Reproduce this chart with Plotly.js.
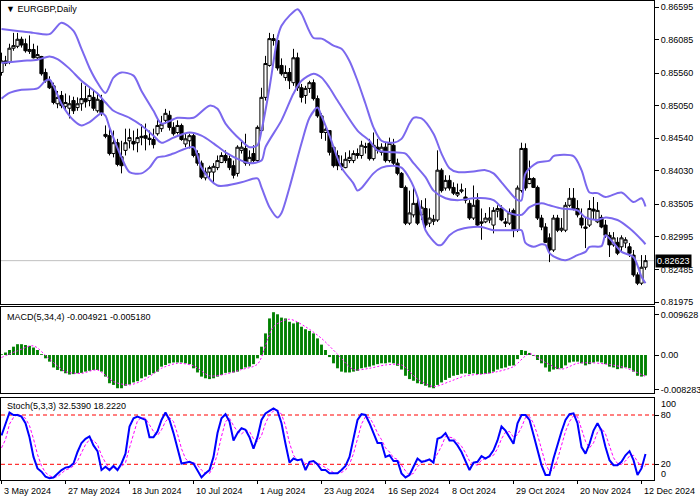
<!DOCTYPE html>
<html><head><meta charset="utf-8">
<script src="https://cdn.plot.ly/plotly-3.0.1.min.js"></script>
<style>body{margin:0;background:#fff}#chart{width:700px;height:500px}</style>
</head><body><div id="chart"></div>
<script>
// ---------- DATA ----------
const openP = [0.8557,0.8575,0.8573,0.8595,0.8598,0.8609,0.8602,0.8590,0.8593,0.8580,
0.8582,0.8557,0.8544,0.8536,0.8508,0.8521,0.8504,0.8501,0.8513,0.8502,
0.8508,0.8516,0.8513,0.8518,0.8497,0.8513,0.8460,0.8458,0.8430,0.8447,
0.8425,0.8435,0.8450,0.8449,0.8447,0.8455,0.8458,0.8454,0.8452,0.8461,
0.8469,0.8482,0.8490,0.8471,0.8463,0.8474,0.8445,0.8450,0.8458,0.8430,
0.8415,0.8392,0.8401,0.8401,0.8408,0.8416,0.8427,0.8422,0.8411,0.8399,
0.8435,0.8438,0.8415,0.8430,0.8419,0.8466,0.8518,0.8568,0.8610,0.8607,
0.8568,0.8549,0.8557,0.8541,0.8580,0.8533,0.8521,0.8532,0.8541,0.8516,
0.8489,0.8463,0.8466,0.8440,0.8427,0.8414,0.8408,0.8419,0.8419,0.8430,
0.8427,0.8441,0.8446,0.8422,0.8440,0.8432,0.8440,0.8419,0.8443,0.8415,
0.8399,0.8377,0.8321,0.8334,0.8352,0.8334,0.8344,0.8321,0.8324,0.8326,
0.8404,0.8376,0.8388,0.8377,0.8365,0.8371,0.8362,0.8352,0.8329,0.8357,
0.8323,0.8323,0.8326,0.8318,0.8340,0.8344,0.8323,0.8321,0.8341,0.8310,
0.8372,0.8438,0.8383,0.8391,0.8377,0.8329,0.8315,0.8298,0.8279,0.8329,
0.8310,0.8310,0.8349,0.8360,0.8344,0.8329,0.8315,0.8318,0.8343,0.8323,
0.8330,0.8318,0.8302,0.8287,0.8291,0.8284,0.8290,0.8284,0.8271,0.8240,
0.8227,0.8252];
const highP = [0.8588,0.8583,0.8602,0.8619,0.8619,0.8613,0.8610,0.8615,0.8602,0.8599,
0.8583,0.8563,0.8551,0.8541,0.8528,0.8528,0.8524,0.8521,0.8519,0.8518,
0.8541,0.8536,0.8532,0.8528,0.8525,0.8522,0.8474,0.8469,0.8466,0.8453,
0.8450,0.8469,0.8469,0.8466,0.8469,0.8476,0.8477,0.8466,0.8469,0.8485,
0.8489,0.8500,0.8497,0.8479,0.8482,0.8477,0.8461,0.8461,0.8461,0.8435,
0.8419,0.8408,0.8411,0.8415,0.8427,0.8432,0.8435,0.8427,0.8419,0.8443,
0.8450,0.8461,0.8435,0.8443,0.8474,0.8533,0.8583,0.8619,0.8617,0.8615,
0.8579,0.8568,0.8564,0.8594,0.8588,0.8539,0.8536,0.8544,0.8546,0.8521,
0.8493,0.8471,0.8466,0.8443,0.8435,0.8427,0.8432,0.8435,0.8435,0.8438,
0.8450,0.8447,0.8453,0.8463,0.8453,0.8446,0.8447,0.8455,0.8453,0.8422,
0.8401,0.8380,0.8372,0.8376,0.8360,0.8357,0.8360,0.8344,0.8334,0.8435,
0.8407,0.8396,0.8396,0.8385,0.8383,0.8383,0.8376,0.8357,0.8380,0.8368,
0.8344,0.8337,0.8346,0.8346,0.8349,0.8349,0.8329,0.8344,0.8344,0.8380,
0.8447,0.8446,0.8419,0.8393,0.8380,0.8334,0.8321,0.8305,0.8334,0.8334,
0.8329,0.8354,0.8376,0.8376,0.8357,0.8344,0.8330,0.8357,0.8362,0.8354,
0.8334,0.8326,0.8307,0.8307,0.8299,0.8302,0.8299,0.8290,0.8279,0.8244,
0.8271,0.8271];
const lowP = [0.8552,0.8567,0.8570,0.8591,0.8595,0.8596,0.8588,0.8586,0.8579,0.8577,
0.8552,0.8541,0.8531,0.8507,0.8501,0.8501,0.8497,0.8485,0.8492,0.8497,
0.8497,0.8502,0.8504,0.8497,0.8494,0.8489,0.8454,0.8427,0.8424,0.8410,
0.8399,0.8427,0.8438,0.8435,0.8432,0.8443,0.8435,0.8443,0.8438,0.8458,
0.8464,0.8477,0.8466,0.8458,0.8460,0.8450,0.8440,0.8438,0.8424,0.8411,
0.8390,0.8388,0.8391,0.8383,0.8404,0.8415,0.8415,0.8404,0.8391,0.8394,
0.8430,0.8411,0.8411,0.8416,0.8416,0.8463,0.8513,0.8566,0.8599,0.8560,
0.8552,0.8544,0.8531,0.8536,0.8528,0.8510,0.8508,0.8525,0.8513,0.8486,
0.8453,0.8450,0.8427,0.8408,0.8404,0.8404,0.8407,0.8415,0.8415,0.8422,
0.8422,0.8430,0.8419,0.8419,0.8430,0.8427,0.8416,0.8416,0.8411,0.8396,
0.8376,0.8318,0.8318,0.8330,0.8318,0.8326,0.8313,0.8315,0.8318,0.8323,
0.8369,0.8372,0.8372,0.8365,0.8362,0.8368,0.8352,0.8326,0.8326,0.8315,
0.8295,0.8321,0.8321,0.8305,0.8330,0.8324,0.8315,0.8318,0.8299,0.8307,
0.8369,0.8372,0.8382,0.8376,0.8326,0.8310,0.8290,0.8260,0.8276,0.8307,
0.8307,0.8307,0.8346,0.8341,0.8330,0.8313,0.8282,0.8315,0.8326,0.8321,
0.8313,0.8298,0.8268,0.8284,0.8271,0.8276,0.8282,0.8268,0.8237,0.8224,
0.8224,0.8248];
const closeP = [0.8575,0.8571,0.8595,0.8599,0.8609,0.8600,0.8591,0.8593,0.8580,0.8585,
0.8555,0.8544,0.8533,0.8510,0.8518,0.8505,0.8510,0.8508,0.8497,0.8508,
0.8516,0.8511,0.8521,0.8501,0.8515,0.8494,0.8457,0.8430,0.8447,0.8413,
0.8411,0.8447,0.8455,0.8445,0.8455,0.8457,0.8454,0.8452,0.8444,0.8474,
0.8476,0.8493,0.8471,0.8461,0.8474,0.8452,0.8453,0.8458,0.8427,0.8415,
0.8393,0.8401,0.8408,0.8410,0.8419,0.8427,0.8419,0.8408,0.8396,0.8440,
0.8440,0.8415,0.8424,0.8419,0.8471,0.8518,0.8571,0.8610,0.8607,0.8564,
0.8555,0.8557,0.8544,0.8580,0.8533,0.8518,0.8532,0.8541,0.8516,0.8489,
0.8463,0.8468,0.8432,0.8411,0.8411,0.8410,0.8421,0.8424,0.8430,0.8427,
0.8443,0.8440,0.8422,0.8443,0.8435,0.8440,0.8419,0.8446,0.8415,0.8399,
0.8377,0.8321,0.8337,0.8352,0.8321,0.8346,0.8318,0.8329,0.8327,0.8404,
0.8372,0.8388,0.8376,0.8368,0.8369,0.8373,0.8357,0.8329,0.8349,0.8318,
0.8321,0.8329,0.8329,0.8341,0.8344,0.8326,0.8321,0.8337,0.8310,0.8376,
0.8438,0.8376,0.8391,0.8377,0.8329,0.8315,0.8291,0.8279,0.8329,0.8310,
0.8313,0.8349,0.8360,0.8344,0.8334,0.8318,0.8313,0.8344,0.8340,0.8341,
0.8315,0.8302,0.8287,0.8298,0.8274,0.8298,0.8295,0.8274,0.8240,0.8227,
0.8252,0.82623];

// Bollinger bands, read at key bars
const bbUpperIdx = [0,4,8,12,15,18,20,22,24,26,28,30,33,35,38,40,44,48,52,54,56,60,62,64,65,67,69,70,72,74,75,78,80,81,83,85,87,89,91,93,95,98,100,102,103,105,108,110,112,114,118,121,123,125,129,130,131,134,137,138,143,145,147,149,151,155,158,160,161];
const bbUpper = [0.8625,0.8622,0.8619,0.8617,0.8635,0.8622,0.8594,0.8564,0.8541,0.8525,0.8549,0.8557,0.8552,0.8528,0.8497,0.8477,0.8486,0.8486,0.8505,0.8500,0.8477,0.8450,0.8440,0.8443,0.8466,0.8533,0.8611,0.8630,0.8646,0.8656,0.8649,0.8611,0.8610,0.8607,0.8599,0.8594,0.8575,0.8544,0.8508,0.8471,0.8450,0.8447,0.8453,0.8477,0.8486,0.8485,0.8461,0.8430,0.8407,0.8401,0.8402,0.8404,0.8399,0.8385,0.8357,0.8357,0.8399,0.8416,0.8419,0.8426,0.8426,0.8404,0.8369,0.8368,0.8362,0.8369,0.8354,0.8360,0.8347];
const bbMiddleIdx = [0,5,9,12,14,17,20,24,26,28,32,35,38,40,43,47,50,53,56,60,62,65,66,70,73,75,78,80,82,84,89,92,94,98,101,103,106,108,111,114,118,121,123,125,127,130,132,135,137,140,144,146,149,151,154,157,160,161];
const bbMiddle = [0.8572,0.8575,0.8577,0.8582,0.8578,0.8563,0.8544,0.8524,0.8510,0.8497,0.8486,0.8474,0.8458,0.8447,0.8455,0.8463,0.8458,0.8446,0.8432,0.8419,0.8415,0.8419,0.8440,0.8482,0.8524,0.8544,0.8555,0.8549,0.8533,0.8513,0.8466,0.8450,0.8435,0.8432,0.8430,0.8415,0.8393,0.8372,0.8360,0.8357,0.8360,0.8360,0.8357,0.8346,0.8337,0.8334,0.8346,0.8352,0.8349,0.8344,0.8341,0.8330,0.8326,0.8330,0.8326,0.8313,0.8295,0.8288];
const bbLowerIdx = [0,2,5,9,11,12,13,15,18,20,22,25,26,27,30,32,35,37,39,41,43,48,50,54,60,64,65,67,69,70,72,75,77,79,80,82,85,88,89,90,93,95,98,100,102,104,106,109,110,112,114,118,120,123,125,128,130,131,133,135,136,137,139,141,144,146,147,150,151,153,155,158,160,161];
const bbLower = [0.8516,0.8525,0.8530,0.8532,0.8544,0.8546,0.8536,0.8508,0.8482,0.8474,0.8479,0.8493,0.8489,0.8471,0.8424,0.8401,0.8399,0.8408,0.8424,0.8426,0.8430,0.8440,0.8408,0.8380,0.8385,0.8391,0.8377,0.8346,0.8330,0.8337,0.8377,0.8446,0.8486,0.8502,0.8489,0.8458,0.8408,0.8383,0.8372,0.8376,0.8399,0.8408,0.8411,0.8408,0.8391,0.8362,0.8310,0.8287,0.8287,0.8302,0.8310,0.8315,0.8315,0.8310,0.8310,0.8310,0.8310,0.8290,0.8284,0.8288,0.8287,0.8274,0.8266,0.8263,0.8271,0.8276,0.8284,0.8285,0.8302,0.8290,0.8276,0.8268,0.8237,0.8227];

// MACD(5,34,4)
const macdHist = [0.0002,0.0006,0.0012,0.0020,0.0026,0.0026,0.0024,0.0022,0.0018,0.0012,
0.0002,-0.0008,-0.0016,-0.0030,-0.0036,-0.0039,-0.0044,-0.0047,-0.0046,-0.0044,
-0.0043,-0.0040,-0.0038,-0.0036,-0.0036,-0.0040,-0.0052,-0.0068,-0.0072,-0.0080,
-0.0080,-0.0074,-0.0071,-0.0066,-0.0063,-0.0056,-0.0052,-0.0048,-0.0044,-0.0040,
-0.0028,-0.0024,-0.0020,-0.0018,-0.0018,-0.0018,-0.0020,-0.0022,-0.0032,-0.0042,
-0.0052,-0.0056,-0.0058,-0.0056,-0.0052,-0.0048,-0.0043,-0.0042,-0.0042,-0.0040,
-0.0034,-0.0030,-0.0028,-0.0022,-0.0008,0.0020,0.0052,0.0088,0.0103,0.0098,
0.0090,0.0088,0.0080,0.0076,0.0079,0.0068,0.0062,0.0058,0.0052,0.0040,
0.0025,0.0012,-0.0005,-0.0020,-0.0032,-0.0040,-0.0042,-0.0042,-0.0040,-0.0038,
-0.0032,-0.0030,-0.0028,-0.0025,-0.0022,-0.0020,-0.0020,-0.0018,-0.0020,-0.0026,
-0.0035,-0.0050,-0.0058,-0.0062,-0.0068,-0.0070,-0.0074,-0.0078,-0.0080,-0.0072,
-0.0066,-0.0060,-0.0055,-0.0050,-0.0048,-0.0045,-0.0044,-0.0046,-0.0044,-0.0046,
-0.0046,-0.0045,-0.0044,-0.0040,-0.0035,-0.0032,-0.0030,-0.0026,-0.0025,-0.0010,
0.0012,0.0010,0.0005,-0.0002,-0.0012,-0.0020,-0.0030,-0.0040,-0.0035,-0.0034,
-0.0032,-0.0025,-0.0018,-0.0016,-0.0016,-0.0020,-0.0025,-0.0022,-0.0018,-0.0016,
-0.0018,-0.0022,-0.0028,-0.0030,-0.0034,-0.0032,-0.0030,-0.0032,-0.0040,-0.0050,
-0.0052,-0.004921];
const macdSignalIdx = [0,4,8,12,16,20,24,28,32,36,40,44,48,52,56,60,64,68,72,76,80,84,88,92,96,100,104,108,112,116,120,124,128,132,136,140,144,148,152,156,160,161];
const macdSignal = [-0.0006,0.0010,0.0022,-0.0010,-0.0040,-0.0044,-0.0036,-0.0064,-0.0072,-0.0058,
-0.0032,-0.0020,-0.0026,-0.0050,-0.0046,-0.0035,-0.0022,0.0068,0.0086,0.0068,
0.0040,0.0002,-0.0035,-0.0032,-0.0024,-0.0024,-0.0058,-0.0076,-0.0064,-0.0050,
-0.0046,-0.0040,-0.0028,0.0003,-0.0018,-0.0034,-0.0020,-0.0019,-0.0023,-0.0031,
-0.0047,-0.005180];

// Stochastic(5,3,3)
const stochMain = [55,68,83,80,80,78,70,53,29,15,
11,5,3,4,9,13,16,17,21,35,
46,51,54,43,36,13,17,13,18,13,
21,33,66,76,78,76,74,53,53,60,
74,83,74,58,39,21,22,23,21,13,
4,9,13,29,58,76,81,72,49,58,
64,62,53,39,53,74,82,85,88,85,
70,45,22,27,25,26,13,23,24,20,
13,13,9,9,9,13,18,29,53,74,
81,80,70,58,46,46,29,31,24,24,
9,4,7,17,27,23,24,26,22,51,
53,58,49,49,43,35,25,13,22,23,
30,27,30,37,49,66,61,53,45,70,
80,80,74,56,37,19,7,7,27,45,
60,74,81,82,70,41,33,45,61,70,
61,41,25,19,19,23,31,36,25,7,
15,32.539];
const stochSignal = [40,50,69,77,81,79,76,67,51,32,
18,10,6,4,5,9,13,15,18,24,
34,44,50,49,44,31,22,14,16,15,
17,22,40,58,73,77,76,68,60,55,
62,72,77,72,57,39,27,22,22,19,
13,9,9,17,33,54,72,76,67,60,
57,61,60,51,48,55,70,80,85,86,
81,67,46,31,25,26,21,21,20,22,
19,15,12,10,9,10,13,20,33,52,
69,78,77,69,58,50,40,35,28,26,
19,12,7,9,17,22,25,24,24,33,
42,54,53,52,47,42,34,24,20,19,
25,27,29,31,39,51,59,60,53,56,
65,77,78,70,56,37,21,11,14,26,
44,60,72,79,78,64,48,40,46,59,
64,57,42,28,21,20,24,30,31,23,
16,18.222];
const stochLevels = [80, 20];

// Axis labels
const priceTicks = [0.86595,0.86085,0.85560,0.85050,0.84540,0.84030,0.83505,0.82995,0.82485,0.81975];
const macdTicks = [0.009628, 0, -0.008283];
const macdTickText = ['0.009628','0.00','-0.008283'];
const dateIdx = [0,16,32,48,64,80,96,112,128,144,160];
const dateLabels = ['3 May 2024','27 May 2024','18 Jun 2024','10 Jul 2024','1 Aug 2024','23 Aug 2024','16 Sep 2024','8 Oct 2024','29 Oct 2024','20 Nov 2024','12 Dec 2024'];
const chartTitle = 'EURGBP,Daily';
const macdLabel = 'MACD(5,34,4) -0.004921 -0.005180';
const stochLabel = 'Stoch(5,3,3) 32.5390 18.2220';

// ---------- CHART ----------
const n = openP.length;
const idx = Array.from({length: n}, (_, i) => i);
const lastClose = closeP[n - 1];
const FONT = {family: '"Liberation Sans", Arial, sans-serif', size: 9, color: '#000'};
const bbLine = {color: '#7b68ee', width: 2, shape: 'spline', smoothing: 0.8};

const traces = [
  {type: 'candlestick', x: idx, open: openP, high: highP, low: lowP, close: closeP,
   xaxis: 'x', yaxis: 'y', whiskerwidth: 0, hoverinfo: 'skip',
   increasing: {line: {color: '#000', width: 1}, fillcolor: '#ffffff'},
   decreasing: {line: {color: '#000', width: 1}, fillcolor: '#000000'}},
  {type: 'scatter', mode: 'lines', x: bbUpperIdx, y: bbUpper, line: bbLine, xaxis: 'x', yaxis: 'y', hoverinfo: 'skip'},
  {type: 'scatter', mode: 'lines', x: bbMiddleIdx, y: bbMiddle, line: bbLine, xaxis: 'x', yaxis: 'y', hoverinfo: 'skip'},
  {type: 'scatter', mode: 'lines', x: bbLowerIdx, y: bbLower, line: bbLine, xaxis: 'x', yaxis: 'y', hoverinfo: 'skip'},
  {type: 'bar', x: idx, y: macdHist, width: 0.72, marker: {color: '#008000', line: {width: 0}},
   xaxis: 'x2', yaxis: 'y2', hoverinfo: 'skip'},
  {type: 'scatter', mode: 'lines', x: macdSignalIdx, y: macdSignal,
   line: {color: '#ff00ff', width: 1, dash: '2px,2px', shape: 'spline', smoothing: 0.8},
   xaxis: 'x2', yaxis: 'y2', hoverinfo: 'skip'},
  {type: 'scatter', mode: 'lines', x: idx, y: stochSignal,
   line: {color: '#ff00ff', width: 1, dash: '3px,2px'}, xaxis: 'x3', yaxis: 'y3', hoverinfo: 'skip'},
  {type: 'scatter', mode: 'lines', x: idx, y: stochMain,
   line: {color: '#0000ff', width: 2}, xaxis: 'x3', yaxis: 'y3', hoverinfo: 'skip'}
];

const xBase = {range: [-0.125, 163.125], showline: true, mirror: true, linecolor: '#000', linewidth: 1,
  showgrid: false, zeroline: false, showticklabels: false, ticks: '', fixedrange: true};
const yBase = {side: 'right', showline: true, mirror: true, linecolor: '#000', linewidth: 1,
  showgrid: false, zeroline: false, ticks: 'outside', ticklen: 4, tickcolor: '#000',
  tickfont: FONT, fixedrange: true};

const annotations = [
  {xref: 'paper', yref: 'paper', x: 0, y: 0.983, xshift: 3, xanchor: 'left', yanchor: 'middle',
   text: '▼ ' + chartTitle, showarrow: false, font: FONT},
  {xref: 'paper', yref: 'paper', x: 0, y: 0.3403, xshift: 4, xanchor: 'left', yanchor: 'middle',
   text: macdLabel, showarrow: false, font: FONT},
  {xref: 'paper', yref: 'paper', x: 0, y: 0.1545, xshift: 4, xanchor: 'left', yanchor: 'middle',
   text: stochLabel, showarrow: false, font: FONT},
  {xref: 'paper', yref: 'paper', x: 1, y: 0.1587, xshift: 5, xanchor: 'left', yanchor: 'middle',
   text: '100', showarrow: false, font: FONT},
  {xref: 'paper', yref: 'paper', x: 1, y: 0.0125, xshift: 5, xanchor: 'left', yanchor: 'middle',
   text: '0', showarrow: false, font: FONT},
  {xref: 'paper', yref: 'y', x: 1, y: lastClose, xshift: 1, xanchor: 'left', yanchor: 'middle',
   text: lastClose.toFixed(5), showarrow: false, bgcolor: '#000', borderpad: 1,
   font: {family: FONT.family, size: 9, color: '#fff'}}
];
dateIdx.forEach((d, k) => annotations.push({xref: 'x3', yref: 'paper', x: d, y: -0.023,
  xanchor: 'left', yanchor: 'middle', text: dateLabels[k], showarrow: false, font: FONT}));

const shapes = [
  {type: 'line', xref: 'paper', yref: 'y', x0: 0, x1: 1, y0: lastClose, y1: lastClose,
   line: {color: '#c0c0c0', width: 1}, layer: 'below'}
];
stochLevels.forEach(v => shapes.push({type: 'line', xref: 'paper', yref: 'y3', x0: 0, x1: 1, y0: v, y1: v,
   line: {color: '#ff0000', width: 1, dash: '4px,3px'}, layer: 'below'}));

const layout = {
  width: 700, height: 500, margin: {l: 1, r: 46, t: 1, b: 20},
  paper_bgcolor: '#fff', plot_bgcolor: '#fff', showlegend: false, font: FONT,
  boxgap: 0.2, boxgroupgap: 0,
  xaxis: Object.assign({}, xBase, {anchor: 'y', rangeslider: {visible: false}}),
  xaxis2: Object.assign({}, xBase, {anchor: 'y2', matches: 'x'}),
  xaxis3: Object.assign({}, xBase, {anchor: 'y3', matches: 'x', tickvals: dateIdx, ticks: 'outside', ticklen: 3, tickcolor: '#000'}),
  yaxis: Object.assign({}, yBase, {domain: [0.3674, 1], range: [0.81944, 0.86689],
    tickvals: priceTicks, ticktext: priceTicks.map(v => v.toFixed(5))}),
  yaxis2: Object.assign({}, yBase, {domain: [0.1816, 0.3612], range: [-0.009147, 0.011554],
    tickvals: macdTicks, ticktext: macdTickText}),
  yaxis3: Object.assign({}, yBase, {domain: [0, 0.1712], range: [0.9, 100.7],
    tickvals: stochLevels, ticktext: stochLevels.map(String)}),
  annotations: annotations, shapes: shapes
};

Plotly.newPlot('chart', traces, layout, {staticPlot: true, displayModeBar: false});
</script>
</body></html>
